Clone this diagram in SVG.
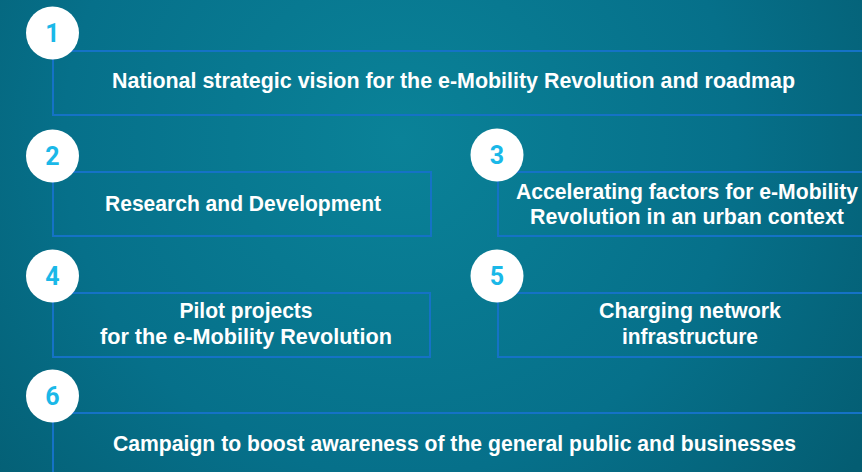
<svg xmlns="http://www.w3.org/2000/svg" width="862" height="472" viewBox="0 0 862 472">
  <defs>
    <radialGradient id="bg" cx="400" cy="140" r="560" gradientUnits="userSpaceOnUse">
      <stop offset="0" stop-color="#0a8298"/>
      <stop offset="0.6" stop-color="#06708a"/>
      <stop offset="1" stop-color="#045d72"/>
    </radialGradient>
    <style>
      .frame { fill: none; stroke: #1572c6; stroke-width: 2; }
      .badge { fill: #ffffff; }
      .num { font-family: Roboto, "Liberation Sans", sans-serif; font-weight: 700; font-size: 25px; fill: #1ab8e8; text-anchor: middle; }
      .label { font-family: "Liberation Sans", Arial, sans-serif; font-weight: 700; font-size: 21.3px; fill: #ffffff; text-anchor: middle; }
    </style>
  </defs>

  <rect width="862" height="472" fill="url(#bg)"/>

  <!-- frames -->
  <g id="connectors">
    <path class="frame" d="M 863 51 H 53 V 115 H 863"/>
    <path class="frame" d="M 53 172 H 431 V 236 H 53 Z"/>
    <path class="frame" d="M 863 172 H 498 V 236 H 863"/>
    <path class="frame" d="M 53 293 H 430 V 357 H 53 Z"/>
    <path class="frame" d="M 863 293 H 498 V 357 H 863"/>
    <path class="frame" d="M 863 413 H 53 V 473"/>
  </g>

  <g id="step1">
    <circle class="badge" cx="52.5" cy="33" r="26.5"/>
    <text class="num" x="52.5" y="42">1</text>
    <text class="label" x="453.5" y="88" textLength="683" lengthAdjust="spacingAndGlyphs">National strategic vision for the e-Mobility Revolution and roadmap</text>
  </g>

  <g id="step2">
    <circle class="badge" cx="52.5" cy="156" r="26.5"/>
    <text class="num" x="52.5" y="165">2</text>
    <text class="label" x="243" y="211" textLength="276" lengthAdjust="spacingAndGlyphs">Research and Development</text>
  </g>

  <g id="step3">
    <circle class="badge" cx="497" cy="155" r="26.5"/>
    <text class="num" x="497" y="164">3</text>
    <text class="label" x="687" y="198.5" textLength="342" lengthAdjust="spacingAndGlyphs">Accelerating factors for e-Mobility</text>
    <text class="label" x="687" y="224" textLength="314" lengthAdjust="spacingAndGlyphs">Revolution in an urban context</text>
  </g>

  <g id="step4">
    <circle class="badge" cx="52.5" cy="276" r="26.5"/>
    <text class="num" x="52.5" y="285">4</text>
    <text class="label" x="246" y="318" textLength="133" lengthAdjust="spacingAndGlyphs">Pilot projects</text>
    <text class="label" x="246" y="344" textLength="292" lengthAdjust="spacingAndGlyphs">for the e-Mobility Revolution</text>
  </g>

  <g id="step5">
    <circle class="badge" cx="497" cy="276" r="26.5"/>
    <text class="num" x="497" y="285">5</text>
    <text class="label" x="690" y="318" textLength="182" lengthAdjust="spacingAndGlyphs">Charging network</text>
    <text class="label" x="690" y="344" textLength="136" lengthAdjust="spacingAndGlyphs">infrastructure</text>
  </g>

  <g id="step6">
    <circle class="badge" cx="52.5" cy="396" r="26.5"/>
    <text class="num" x="52.5" y="405">6</text>
    <text class="label" x="454.5" y="451" textLength="683" lengthAdjust="spacingAndGlyphs">Campaign to boost awareness of the general public and businesses</text>
  </g>
</svg>
